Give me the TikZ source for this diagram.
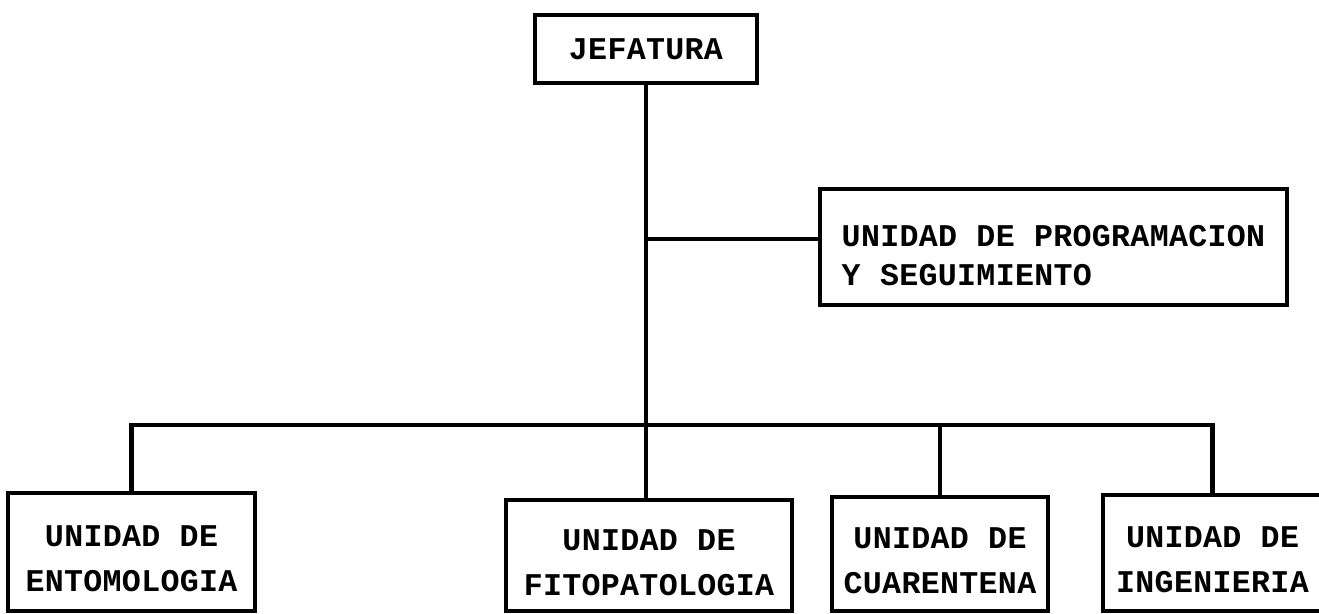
\documentclass[tikz,border=0pt]{standalone}
\usepackage{fontspec}
\newfontfamily\maquina{Liberation Mono}[LetterSpace=1]
% Zusatzhoehe in der ersten Zeile
\newcommand{\tope}[1]{\rule{0pt}{\dimexpr\fontcharht\font`U+#1\relax}}
\tikzset{
	caja/.style={draw, rectangle, line width=2.4pt, inner sep=0pt, align=center,
		font=\maquina\bfseries\fontsize{18}{25.6}\selectfont},
	linea/.style={line width=2.4pt},
}
\begin{document}
\begin{tikzpicture}[x=0.02cm, y=-0.02cm]
	\useasboundingbox (0,0) rectangle (1319,613);
	% Jefatura oben
	\node[caja, minimum width=4.44cm, minimum height=1.36cm] (jefatura) at (646,49) {JEFATURA};
	% Stab
	\node[caja, align=left, minimum width=9.34cm, minimum height=2.32cm,
		font=\maquina\bfseries\fontsize{18}{22}\selectfont] (programacion) at (1053.5,247)
		{\tope{9.7pt}UNIDAD DE PROGRAMACION\\Y SEGUIMIENTO};
	% Unidades unten
	\node[caja, minimum width=4.94cm, minimum height=2.36cm] (entomologia) at (131.5,552)
		{\tope{8pt}UNIDAD DE\\ENTOMOLOGIA};
	\node[caja, minimum width=5.72cm, minimum height=2.22cm] (fitopatologia) at (649,555.5)
		{\tope{8pt}UNIDAD DE\\FITOPATOLOGIA};
	\node[caja, minimum width=4.32cm, minimum height=2.28cm] (cuarentena) at (940,554)
		{\tope{8pt}UNIDAD DE\\CUARENTENA};
	\node[caja, minimum width=4.38cm, minimum height=2.32cm] (ingenieria) at (1212.5,553)
		{\tope{8pt}UNIDAD DE\\INGENIERIA};
	% Linien
	\coordinate (bus) at (645,425);
	\coordinate (rama) at ([yshift=0.16cm]programacion.west);
	\draw[linea] (jefatura.south) -- (jefatura.south |- fitopatologia.north);
	\draw[linea] (rama) -- (rama -| jefatura.south);
	\draw[linea] (entomologia.north) -- (entomologia.north |- bus)
		-- (ingenieria.north |- bus) -- (ingenieria.north);
	\draw[linea] (cuarentena.north) -- (cuarentena.north |- bus);
\end{tikzpicture}
\end{document}
